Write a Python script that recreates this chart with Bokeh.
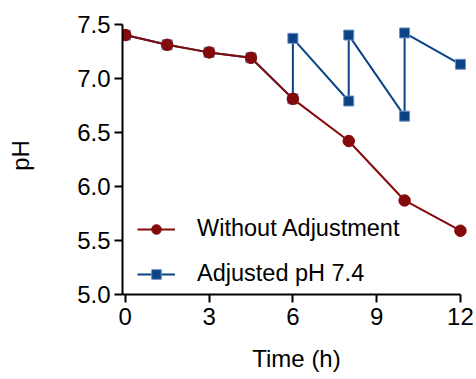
from bokeh.plotting import figure
from bokeh.models import Range1d, FixedTicker, Legend, LegendItem, ColumnDataSource
from bokeh.embed import file_html
from bokeh.resources import INLINE

# Data
time_without = [0, 1.5, 3, 4.5, 6, 8, 10, 12]
ph_without = [7.40, 7.31, 7.24, 7.19, 6.81, 6.42, 5.87, 5.59]

time_adjusted = [0, 1.5, 3, 4.5, 6, 6, 8, 8, 10, 10, 12]
ph_adjusted = [7.40, 7.31, 7.24, 7.19, 6.81, 7.37, 6.79, 7.40, 6.65, 7.42, 7.13]

x_ticks = [0, 3, 6, 9, 12]
y_ticks = [5.0, 5.5, 6.0, 6.5, 7.0, 7.5]
y_tick_labels = ["5.0", "5.5", "6.0", "6.5", "7.0", "7.5"]

series_names = ["Without Adjustment", "Adjusted pH 7.4"]
red = "#850A0A"
blue = "#0B4387"
FONT = "Liberation Sans"

p = figure(width=476, height=379, output_backend="svg", toolbar_location=None,
           x_range=Range1d(-0.1, 12.36), y_range=Range1d(5.0, 7.572),
           min_border_left=122, min_border_right=6, min_border_top=16, min_border_bottom=85)
p.outline_line_color = None
p.grid.visible = False
p.background_fill_color = "white"
p.border_fill_color = "white"

src_w = ColumnDataSource(dict(x=time_without, y=ph_without))
src_a = ColumnDataSource(dict(x=time_adjusted, y=ph_adjusted))

la = p.line("x", "y", source=src_a, line_color=blue, line_width=2)
ma = p.scatter("x", "y", source=src_a, marker="square", size=10, fill_color=blue,
               line_color="#6F8FBF", line_width=1)
lw = p.line("x", "y", source=src_w, line_color=red, line_width=2)
mw = p.scatter("x", "y", source=src_w, marker="circle", size=11.5, fill_color=red,
               line_color=red, line_width=1)

# axes
xa = p.xaxis[0]
ya = p.yaxis[0]
xa.bounds = (-0.1, 12)
ya.bounds = (5.0, 7.5)
xa.ticker = FixedTicker(ticks=x_ticks)
ya.ticker = FixedTicker(ticks=y_ticks)
ya.major_label_overrides = {t: l for t, l in zip(y_ticks, y_tick_labels)}
for ax in (xa, ya):
    ax.axis_line_width = 2
    ax.axis_line_color = "black"
    ax.major_tick_line_width = 2
    ax.major_tick_line_color = "black"
    ax.major_tick_in = 0
    ax.major_tick_out = 8
    ax.minor_tick_line_color = None
    ax.major_label_text_font = FONT
    ax.major_label_text_font_size = "24px"
    ax.major_label_text_color = "black"
    ax.axis_label_text_font = FONT
    ax.axis_label_text_font_size = "24px"
    ax.axis_label_text_font_style = "normal"
    ax.axis_label_text_color = "black"
xa.axis_label = "Time (h)"
ya.axis_label = "pH"
xa.major_label_standoff = 5
ya.major_label_standoff = 4
xa.axis_label_standoff = 17
ya.axis_label_standoff = 40

legend = Legend(items=[LegendItem(label=series_names[0], renderers=[lw, mw]),
                       LegendItem(label=series_names[1], renderers=[la, ma])],
                location=(15, 7), padding=0, margin=0, spacing=18,
                glyph_width=38, glyph_height=24, label_height=24,
                label_standoff=22, label_text_font=FONT, label_text_font_size="23.5px",
                label_text_color="black", border_line_color=None, background_fill_alpha=0)
p.add_layout(legend, "center")

open("out.html", "w").write(file_html(p, INLINE))
